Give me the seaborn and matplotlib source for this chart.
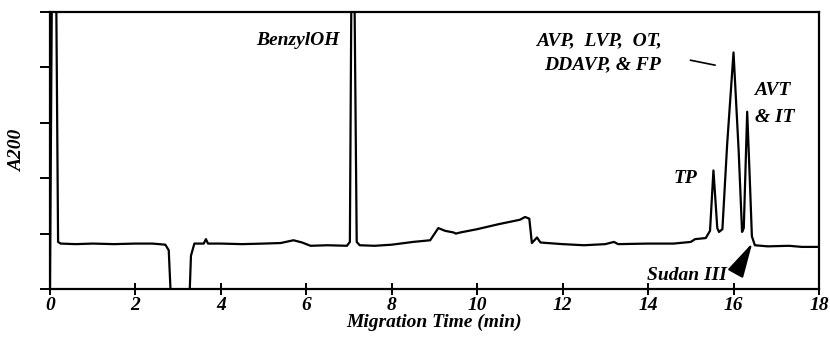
import matplotlib
matplotlib.use("Agg")
import matplotlib.pyplot as plt
import seaborn as sns
import pandas as pd

# electropherogram trace
time_min = [0.00, 0.05, 0.14, 0.19, 0.25, 0.6, 1.0, 1.5, 2.0, 2.4, 2.7, 2.78, 2.85,
            3.25, 3.30, 3.38, 3.6, 3.65, 3.7, 4.0, 4.5, 5.0, 5.4, 5.7, 5.9, 6.1,
            6.5, 6.95, 7.02, 7.06, 7.12, 7.18, 7.25, 7.6, 8.0, 8.5, 8.9, 9.09,
            9.25, 9.45, 9.5, 9.6, 10.0, 10.5, 11.0, 11.12, 11.22, 11.28, 11.4,
            11.48, 11.64, 12.0, 12.5, 13.0, 13.2, 13.3, 14.0, 14.6, 15.0, 15.1,
            15.35, 15.45, 15.53, 15.62, 15.66, 15.74, 15.85, 16.0, 16.12, 16.2,
            16.24, 16.32, 16.38, 16.43, 16.5, 16.8, 17.3, 17.6, 18.0]
a200 = [0.00, 6.0, 6.0, 0.85, 0.82, 0.81, 0.82, 0.81, 0.82, 0.82, 0.80, 0.70, -0.5,
        -0.5, 0.60, 0.82, 0.82, 0.90, 0.82, 0.82, 0.81, 0.82, 0.83, 0.88, 0.84, 0.78,
        0.79, 0.78, 0.85, 6.0, 6.0, 0.85, 0.79, 0.78, 0.80, 0.85, 0.88, 1.10,
        1.05, 1.02, 1.00, 1.02, 1.08, 1.17, 1.25, 1.30, 1.27, 0.83, 0.93,
        0.84, 0.83, 0.81, 0.79, 0.81, 0.85, 0.81, 0.82, 0.82, 0.85, 0.90,
        0.92, 1.05, 2.14, 1.10, 1.03, 1.08, 2.60, 4.27, 2.50, 1.03,
        1.10, 3.20, 2.00, 0.95, 0.79, 0.77, 0.78, 0.76, 0.76]

x_ticks = [0, 2, 4, 6, 8, 10, 12, 14, 16, 18]
y_ticks = [0, 1, 2, 3, 4, 5]

trace = pd.DataFrame({"t": time_min, "a": a200})

sns.set_theme(style="ticks")
plt.rcParams['font.family'] = ['Liberation Serif', 'DejaVu Serif']
plt.rcParams['font.style'] = 'italic'
plt.rcParams['font.weight'] = 'bold'
plt.rcParams['axes.labelweight'] = 'bold'
for key in ['text.color', 'axes.labelcolor', 'xtick.color', 'ytick.color']:
    plt.rcParams[key] = 'black'

fig = plt.figure(figsize=(8.3, 3.37), dpi=100)
ax = fig.add_axes([0.0602, 0.1424, 0.9265, 0.822])

sns.lineplot(data=trace, x="t", y="a", ax=ax, color="black", lw=1.6,
             estimator=None, sort=False)

ax.set_xlim(0, 18)
ax.set_ylim(0, 5)
ax.set_xticks(x_ticks)
ax.set_xticklabels([str(v) for v in x_ticks], fontsize=14)
ax.set_yticks(y_ticks)
ax.set_yticklabels([])
ax.tick_params(axis="x", direction="inout", length=9, width=1.4, pad=1)
ax.tick_params(axis="y", direction="out", length=7, width=1.4)
for s in ax.spines.values():
    s.set_visible(True)
    s.set_linewidth(1.6)
    s.set_color("black")

ax.set_xlabel("Migration Time (min)", fontsize=14, labelpad=0)
ax.set_ylabel("A200", fontsize=14)
ax.yaxis.set_label_coords(-0.031, 0.5)

tfont = dict(fontsize=14)
ax.text(6.79, 4.49, "BenzylOH", ha="right", va="center", **tfont)
ax.text(12.86, 4.49, "AVP,  LVP,  OT,", ha="center", va="center", **tfont)
ax.text(12.93, 4.04, "DDAVP, & FP", ha="center", va="center", **tfont)
ax.plot([14.99, 15.57], [4.13, 4.04], color="black", lw=1.2)
ax.text(16.91, 3.59, "AVT", ha="center", va="center", **tfont)
ax.text(16.96, 3.10, "& IT", ha="center", va="center", **tfont)
ax.text(14.87, 2.0, "TP", ha="center", va="center", **tfont)
ax.text(14.92, 0.25, "Sudan III", ha="center", va="center", **tfont)
ax.annotate("", xy=(16.44, 0.83), xytext=(16.06, 0.30),
            arrowprops=dict(arrowstyle="-|>,head_length=1.2,head_width=0.3",
                            mutation_scale=18, color="black", lw=1.5,
                            shrinkA=0, shrinkB=0))

fig.savefig("out.png", dpi=100)
